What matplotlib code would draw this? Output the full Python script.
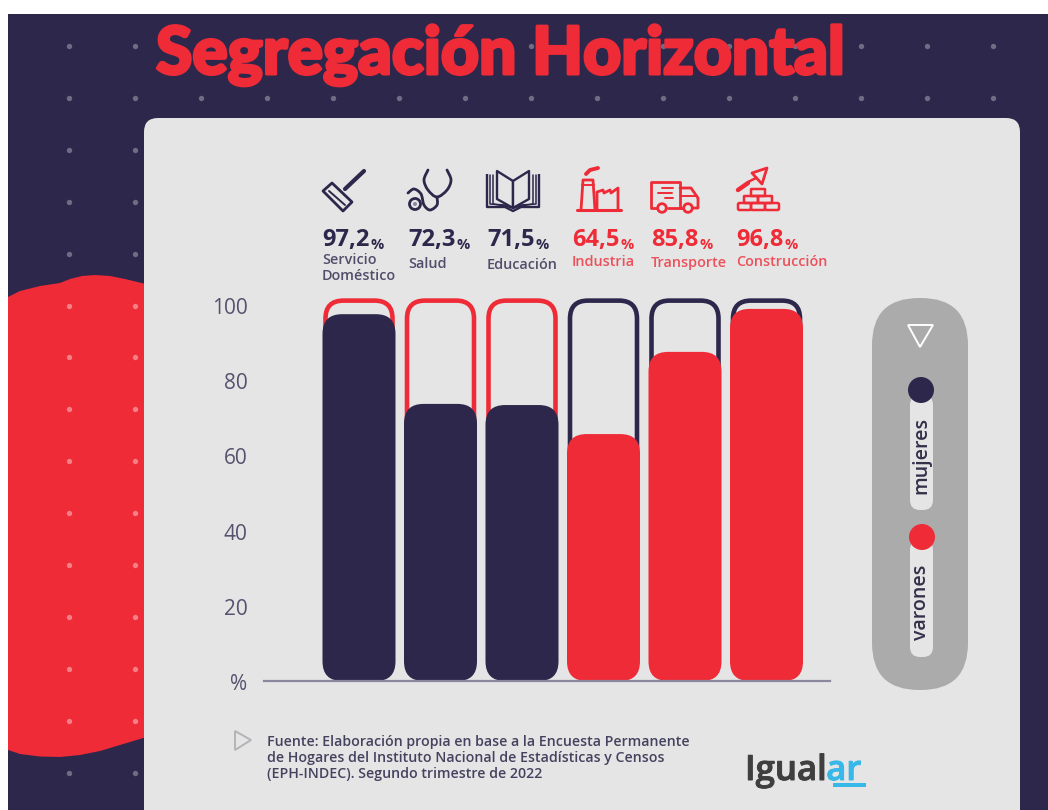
import numpy as np
import matplotlib
matplotlib.use('Agg')
import matplotlib.pyplot as plt
from matplotlib.patches import FancyBboxPatch, Polygon, Circle, Rectangle, PathPatch
from matplotlib.path import Path
from matplotlib.transforms import ScaledTranslation
import matplotlib.patheffects as pe

NAVY = '#2d274b'
RED = '#ee2b37'
PANEL = '#e5e5e5'
FONT = 'Open Sans'

# data
categories = ['Servicio\nDoméstico', 'Salud', 'Educación', 'Industria', 'Transporte', 'Construcción']
pct_labels = ['97,2', '72,3', '71,5', '64,5', '85,8', '96,8']
# bar heights as drawn in the picture, they sit a bit above the printed numbers
bar_heights = [97.3, 73.5, 73.2, 65.5, 87.3, 98.7]
outline_top = [100.9, 100.9, 100.9, 100.9, 100.9, 100.9]
bar_colors = [NAVY, NAVY, NAVY, RED, RED, RED]
outline_colors = [RED, RED, RED, NAVY, NAVY, NAVY]
y_ticks = [0, 20, 40, 60, 80, 100]
y_ticklabels = ['%', '20', '40', '60', '80', '100']
label_left = [322, 408, 487, 572, 651, 736]
cat_y = [268, 264, 265, 262, 263, 262]
source = ('Fuente: Elaboración propia en base a la Encuesta Permanente\n'
          'de Hogares del Instituto Nacional de Estadísticas y Censos\n'
          '(EPH-INDEC). Segundo trimestre de 2022')

fig = plt.figure(figsize=(10.48, 8.10), dpi=100, facecolor='white')

# background layer in pixel coordinates
bg = fig.add_axes([0, 0, 1, 1], zorder=0)
bg.set_xlim(0, 1048)
bg.set_ylim(810, 0)
bg.axis('off')

bg.add_patch(Rectangle((8, 14), 1040, 796, fc=NAVY, ec='none', zorder=1))

# red blob on the left
blob = [(8, 297), (20, 291), (40, 286), (60, 283), (70, 279), (82, 276), (95, 275), (110, 276), (125, 279),
        (150, 285), (150, 736), (120, 745), (100, 751), (80, 755), (60, 757), (40, 756.5), (20, 754), (8, 750)]
bg.add_patch(Polygon(blob, closed=True, fc=RED, ec='none', zorder=2))

# dots
dot_x = np.arange(69, 1000, 66)
dot_y = np.arange(46, 800, 51.9)
xx, yy = np.meshgrid(dot_x, dot_y)
inside = (yy > 275) & (yy < 750)
bg.scatter(xx[~inside], yy[~inside], s=15, color='#6f6c85', lw=0, zorder=3)
bg.scatter(xx[inside], yy[inside], s=15, color='#f47f86', lw=0, zorder=3)

# panel, bottom goes off the canvas
bg.add_patch(FancyBboxPatch((144, 118), 876, 760, boxstyle='round,pad=0,rounding_size=14',
                            fc=PANEL, ec='none', zorder=4))

title = bg.text(156, 74, 'Segregación Horizontal', color=RED, fontsize=47.5, family='Lato',
                weight='black', ha='left', va='baseline', zorder=6)
title.set_path_effects([pe.withStroke(linewidth=2.2, foreground=RED)])


def line(pts, color, lw=2.0):
    bg.plot(*zip(*pts), color=color, lw=lw, solid_capstyle='round', solid_joinstyle='round', zorder=6)


def box(x0, y0, x1, y1, color, lw=1.8, r=1.5):
    bg.add_patch(FancyBboxPatch((x0, y0), x1 - x0, y1 - y0, boxstyle=f'round,pad=0,rounding_size={r}',
                                fc='none', ec=color, lw=lw, zorder=6))


def curve(pts, color, lw=2.0):
    # catmull-rom through the points, only used for the icon tubes
    pts = np.array(pts, float)
    p = np.vstack([pts[0], pts, pts[-1]])
    verts = [pts[0]]
    codes = [Path.MOVETO]
    for i in range(1, len(p) - 2):
        verts += [p[i] + (p[i + 1] - p[i - 1]) / 6, p[i + 1] - (p[i + 2] - p[i]) / 6, p[i + 1]]
        codes += [Path.CURVE4] * 3
    bg.add_patch(PathPatch(Path(verts, codes), fc='none', ec=color, lw=lw, capstyle='round', zorder=6))


# brush
line([(364, 171), (345, 189)], NAVY, 3)
bg.add_patch(Polygon([(323, 191), (332, 183), (352, 202), (343, 211)], closed=True, fc='none', ec=NAVY,
                     lw=2, joinstyle='round', zorder=6))
line([(329, 191), (345, 205)], NAVY, 1.4)
# stethoscope
curve([(428, 170), (424, 180), (428, 190), (437, 197), (447, 190), (451, 180), (447, 170)], NAVY)
curve([(437, 197), (437, 205), (430, 210), (424, 205), (421, 194), (414, 189), (408, 193)], NAVY)
bg.add_patch(Circle((415, 204), 5.5, fc='none', ec=NAVY, lw=2, zorder=6))
bg.add_patch(Circle((415, 204), 2, fc='#8a889e', ec='none', zorder=6))
# book
bg.add_patch(Polygon([(487, 174), (487, 207), (505, 207), (513, 211), (521, 207), (539, 207), (539, 174)],
                     closed=False, fc='none', ec=NAVY, lw=1.7, joinstyle='round', zorder=6))
for off in (3, 6):
    line([(487 + off, 175), (487 + off, 204), (505, 204 + off / 3), (513, 208)], NAVY, 1.1)
    line([(539 - off, 175), (539 - off, 204), (521, 204 + off / 3), (513, 208)], NAVY, 1.1)
bg.add_patch(Polygon([(497, 171), (513, 181), (513, 208), (497, 199)], closed=True, fc=PANEL, ec=NAVY, lw=1.7,
                     joinstyle='round', zorder=6))
bg.add_patch(Polygon([(529, 171), (513, 181), (513, 208), (529, 199)], closed=True, fc=PANEL, ec=NAVY, lw=1.7,
                     joinstyle='round', zorder=6))
# factory
line([(577, 210), (621, 210)], RED, 2.2)
line([(581, 210), (583, 180), (593, 180), (595, 210)], RED)
line([(582, 185), (594, 185)], RED, 1.4)
line([(586, 174), (590, 170), (598, 168)], RED, 2.8)
line([(597, 210), (597, 192), (603, 190), (604, 193), (610, 190), (611, 193), (618, 188), (618, 210)], RED)
# truck
line([(658, 208), (651, 208), (651, 182), (680, 182), (680, 208), (668, 208)], RED)
line([(680, 188), (691, 188), (698, 198), (698, 208), (693, 208)], RED)
line([(683, 208), (680, 208)], RED)
line([(681, 196), (697, 196)], RED, 1.4)
for cx in (662, 688):
    bg.add_patch(Circle((cx, 208), 4.3, fc=PANEL, ec=RED, lw=2, zorder=7))
line([(662, 188), (673, 188)], RED, 1.4)
line([(658, 193), (672, 193)], RED, 1.4)
line([(665, 198), (673, 198)], RED, 1.4)
# trowel and bricks
bg.add_patch(Polygon([(767, 168), (752, 173), (762, 184)], closed=True, fc='none', ec=RED, lw=2,
                     joinstyle='round', zorder=6))
line([(756, 178), (748, 182)], RED, 1.8)
line([(748, 183), (738, 190)], RED, 3.2)
for x0, x1 in [(738, 751), (751, 765), (765, 779)]:
    box(x0, 203, x1, 210, RED)
for x0, x1 in [(744, 758), (758, 772)]:
    box(x0, 196, x1, 203, RED, r=0.5)
box(751, 189, 765, 196, RED, r=0.5)

# value and category labels above the bars
for x, pct, cat, cy, col in zip(label_left, pct_labels, categories, cat_y, bar_colors):
    t = bg.text(x, 246, pct, color=col, fontsize=17, weight='bold', family=FONT, ha='left', va='baseline', zorder=6)
    bg.annotate('%', xy=(1, 0), xycoords=t, xytext=(0.5, 0), textcoords='offset points', color=col,
                fontsize=10.5, weight='bold', family=FONT, ha='left', va='bottom', zorder=6)
    bg.text(x, cy, cat, color=col, alpha=0.8, fontsize=10.4, family=FONT, weight='semibold', ha='left', va='center',
            linespacing=1.2, zorder=6)

# legend
bg.add_patch(FancyBboxPatch((872, 298), 96, 392, boxstyle='round,pad=0,rounding_size=47',
                            fc='#ababab', ec='none', zorder=5))
bg.add_patch(Polygon([(908, 325), (933, 325), (920, 347)], closed=True, fc='none', ec='white', lw=1.4,
                     joinstyle='miter', zorder=6))
for y0, y1, cy, label, col, cx, ty in [(395, 510, 390, 'mujeres', NAVY, 921, 455),
                                       (540, 657, 537, 'varones', RED, 922, 602)]:
    bg.add_patch(FancyBboxPatch((910, y0), 23, y1 - y0, boxstyle='round,pad=0,rounding_size=10',
                                fc=PANEL, ec='none', zorder=6))
    bg.add_patch(Circle((cx, cy), 13, fc=col, ec='none', zorder=7))
    bg.text(921, ty, label, rotation=90, color='#33304a', fontsize=14, weight='semibold',
            family=FONT, ha='center', va='center', zorder=7)

# source and logo
bg.add_patch(Polygon([(235, 731), (251, 740), (235, 750)], closed=True, fc='none', ec='#b4b4b8', lw=1.4, zorder=6))
bg.text(267, 758, source, color='#45425f', fontsize=10.2, weight='semibold', family=FONT, ha='left', va='center',
        linespacing=1.22, zorder=6)
logo = bg.text(745, 780, 'Igual', color='#3f3f3f', fontsize=25, weight='semibold', family=FONT, ha='left',
               va='baseline', zorder=6, path_effects=[pe.withStroke(linewidth=0.7, foreground='#3f3f3f')])
bg.annotate('ar', xy=(1, 0), xycoords=logo, xytext=(-0.5, 0), textcoords='offset points', color='#37b8e8',
            fontsize=25, weight='semibold', family=FONT, ha='left', va='bottom', zorder=6,
            path_effects=[pe.withStroke(linewidth=0.7, foreground='#37b8e8')])
bg.add_patch(Rectangle((833, 783), 33, 4, fc='#37b8e8', ec='none', zorder=6))

# chart: x unit 81.5 px, y unit 3.77 px
ax = fig.add_axes([264 / 1048, (810 - 681) / 810, (830 - 264) / 1048, 110 * 3.77 / 810], zorder=2)
ax.patch.set_alpha(0)
x_pos = np.arange(len(categories))
ax.set_xlim((264 - 359) / 81.5, (830 - 359) / 81.5)
ax.set_ylim(0, 110)
asp = 81.5 / 3.77
w = 73 / 81.5
for xp, top, h, c, oc in zip(x_pos, outline_top, bar_heights, bar_colors, outline_colors):
    inset = 3 / 81.5
    # outline starts behind the bar so its lower end never shows
    ax.add_patch(FancyBboxPatch((xp - w / 2 + inset, 12), w - 2 * inset, top - 12, mutation_aspect=asp,
                                boxstyle='round,pad=0,rounding_size=0.22', fc='none', ec=oc, lw=3.3, zorder=2))
    ax.add_patch(FancyBboxPatch((xp - w / 2, 0), w, h, mutation_aspect=asp,
                                boxstyle='round,pad=0,rounding_size=0.24', fc=c, ec='none', zorder=3))

ax.set_xticks([])
ax.set_yticks(y_ticks)
ax.set_yticklabels(y_ticklabels, family=FONT, fontsize=15, color='#55526e')
ax.tick_params(axis='y', length=0, pad=12)
shift = ScaledTranslation(0, -1.5 / 100, fig.dpi_scale_trans)
for lab in ax.get_yticklabels():
    lab.set_transform(lab.get_transform() + shift)
for s in ('top', 'left', 'right'):
    ax.spines[s].set_visible(False)
ax.spines['bottom'].set_color('#8a889e')
ax.spines['bottom'].set_linewidth(1.6)
ax.spines['bottom'].set_zorder(4)

fig.savefig('out.png', dpi=100, facecolor='white')
